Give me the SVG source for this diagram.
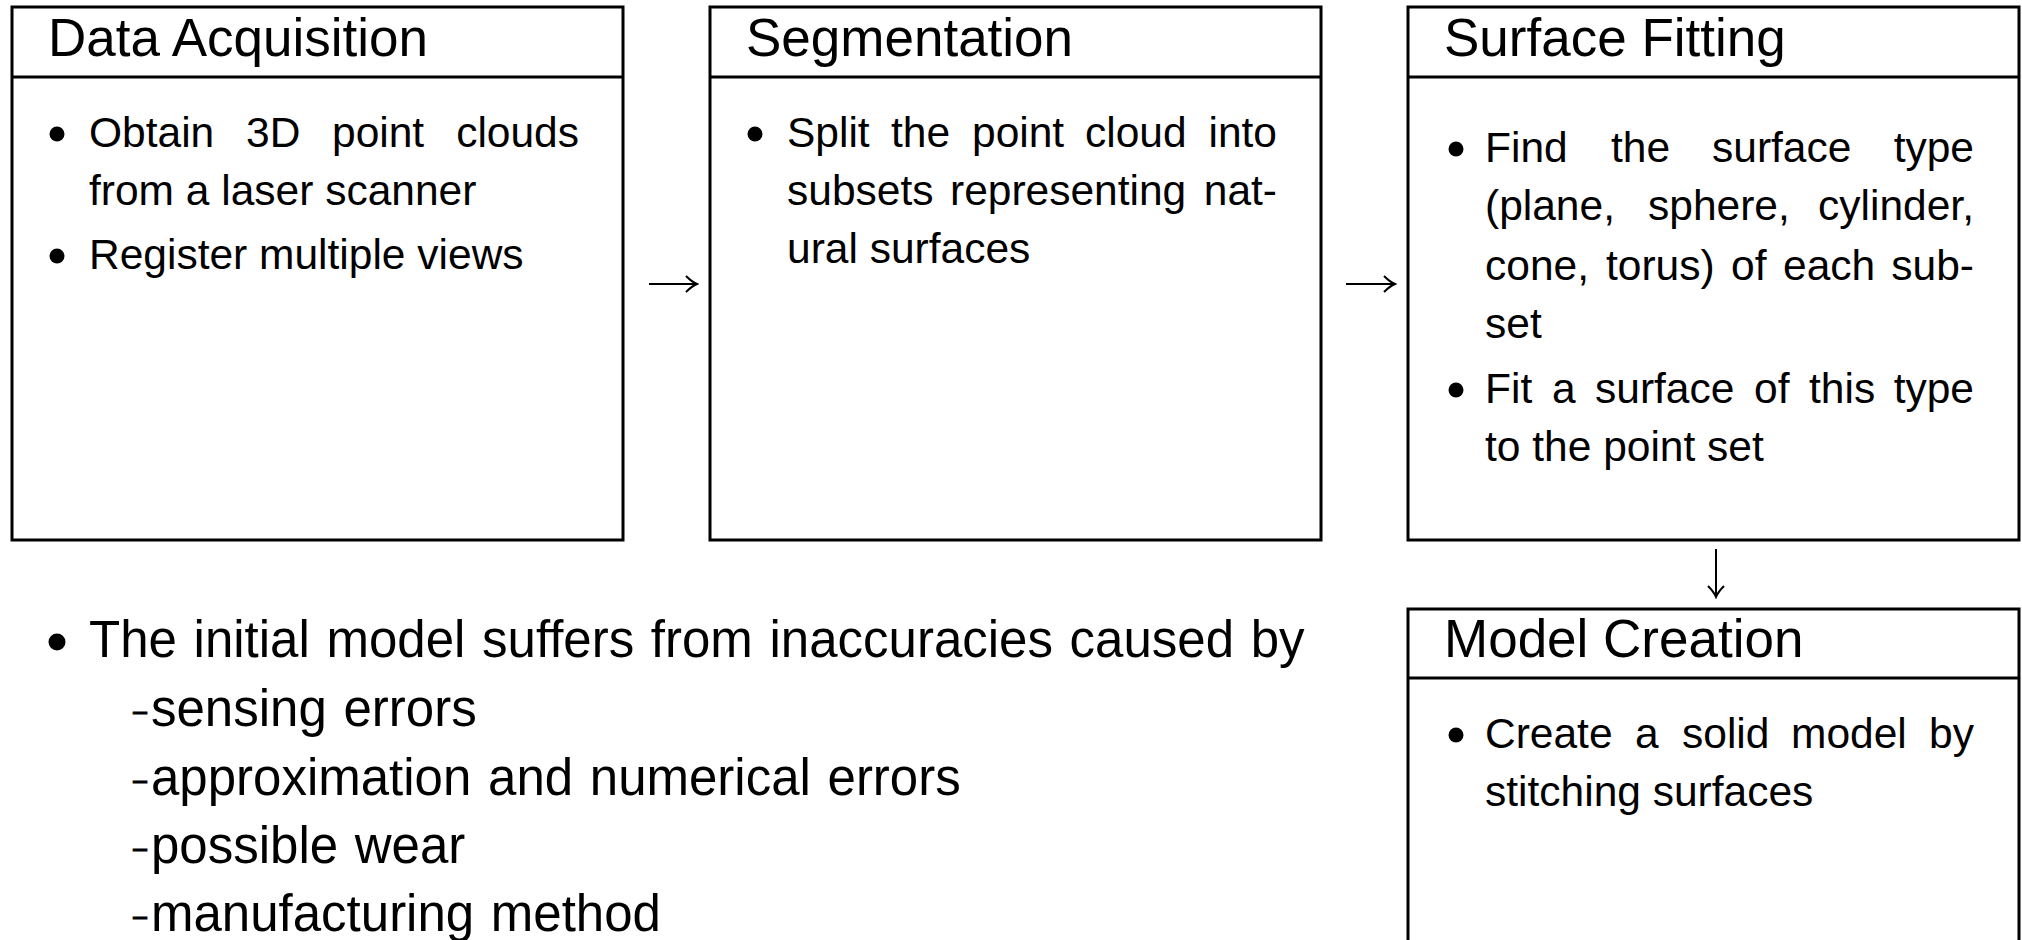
<svg xmlns="http://www.w3.org/2000/svg" width="2022" height="940" viewBox="0 0 2022 940">
<style>
.box{fill:#fff;stroke:#000;stroke-width:3}
.div{stroke:#000;stroke-width:3}
.t{font-family:"Liberation Sans",Arial,sans-serif;fill:#000}
.title{font-size:53px}
.body{font-size:42.5px}
.big{font-size:51px;word-spacing:2.5px}
.dash{font-size:30px;stroke:#000;stroke-width:0.9}
.end{text-anchor:end}
.conn{stroke:#000;stroke-width:2;fill:none}
</style>
<defs>
<marker id="ah" viewBox="-14 -10 16 20" refX="0" refY="0" markerWidth="16" markerHeight="20" markerUnits="userSpaceOnUse" orient="auto">
<path d="M-11,-8 Q-5,-2 0,0 Q-5,2 -11,8" fill="none" stroke="#000" stroke-width="2"/>
</marker>
</defs>
<rect width="2022" height="940" fill="#fff"/>

<g id="node-data-acquisition">
<rect class="box" x="12" y="7" width="611" height="533"/>
<line class="div" x1="12" y1="77" x2="623" y2="77"/>
<text class="t title" x="48" y="56">Data Acquisition</text>
<circle cx="57" cy="134" r="7.5"/>
<text class="t body" x="89" y="147">Obtain</text>
<text class="t body" x="246" y="147">3D</text>
<text class="t body" x="332" y="147">point</text>
<text class="t body end" x="579" y="147">clouds</text>
<text class="t body" x="89" y="205">from a laser scanner</text>
<circle cx="57" cy="256" r="7.5"/>
<text class="t body" x="89" y="269">Register multiple views</text>
</g>

<g id="node-segmentation">
<rect class="box" x="710" y="7" width="611" height="533"/>
<line class="div" x1="710" y1="77" x2="1321" y2="77"/>
<text class="t title" x="746" y="56">Segmentation</text>
<circle cx="755" cy="134" r="7.5"/>
<text class="t body" x="787" y="147">Split</text>
<text class="t body" x="891" y="147">the</text>
<text class="t body" x="972" y="147">point</text>
<text class="t body" x="1085" y="147">cloud</text>
<text class="t body end" x="1277" y="147">into</text>
<text class="t body" x="787" y="205">subsets</text>
<text class="t body" x="950" y="205">representing</text>
<text class="t body end" x="1277" y="205">nat-</text>
<text class="t body" x="787" y="263">ural surfaces</text>
</g>

<g id="node-surface-fitting">
<rect class="box" x="1408" y="7" width="611" height="533"/>
<line class="div" x1="1408" y1="77" x2="2019" y2="77"/>
<text class="t title" x="1444" y="56">Surface Fitting</text>
<circle cx="1456" cy="149" r="7.5"/>
<text class="t body" x="1485" y="162">Find</text>
<text class="t body" x="1611" y="162">the</text>
<text class="t body" x="1712" y="162">surface</text>
<text class="t body end" x="1974" y="162">type</text>
<text class="t body" x="1485" y="220">(plane,</text>
<text class="t body" x="1648" y="220">sphere,</text>
<text class="t body end" x="1974" y="220">cylinder,</text>
<text class="t body" x="1485" y="280">cone,</text>
<text class="t body" x="1606" y="280">torus)</text>
<text class="t body" x="1731" y="280">of</text>
<text class="t body" x="1783" y="280">each</text>
<text class="t body end" x="1974" y="280">sub-</text>
<text class="t body" x="1485" y="338">set</text>
<circle cx="1456" cy="390" r="7.5"/>
<text class="t body" x="1485" y="403">Fit</text>
<text class="t body" x="1552" y="403">a</text>
<text class="t body" x="1595" y="403">surface</text>
<text class="t body" x="1754" y="403">of</text>
<text class="t body" x="1809" y="403">this</text>
<text class="t body end" x="1974" y="403">type</text>
<text class="t body" x="1485" y="461">to the point set</text>
</g>

<g id="node-model-creation">
<rect class="box" x="1408" y="609" width="611" height="533"/>
<line class="div" x1="1408" y1="678" x2="2019" y2="678"/>
<text class="t title" x="1444" y="657">Model Creation</text>
<circle cx="1456" cy="735" r="7.5"/>
<text class="t body" x="1485" y="748">Create</text>
<text class="t body" x="1635" y="748">a</text>
<text class="t body" x="1682" y="748">solid</text>
<text class="t body" x="1791" y="748">model</text>
<text class="t body end" x="1974" y="748">by</text>
<text class="t body" x="1485" y="806">stitching surfaces</text>
</g>

<g id="notes">
<circle cx="57" cy="642" r="8.5"/>
<text class="t big" x="89" y="657">The initial model suffers from inaccuracies caused by</text>
<text class="t dash" x="133" y="720.5" textLength="14" lengthAdjust="spacingAndGlyphs">–</text>
<text class="t big" x="151" y="726">sensing errors</text>
<text class="t dash" x="133" y="789.5" textLength="14" lengthAdjust="spacingAndGlyphs">–</text>
<text class="t big" x="151" y="795">approximation and numerical errors</text>
<text class="t dash" x="133" y="857.5" textLength="14" lengthAdjust="spacingAndGlyphs">–</text>
<text class="t big" x="151" y="863">possible wear</text>
<text class="t dash" x="133" y="925.5" textLength="14" lengthAdjust="spacingAndGlyphs">–</text>
<text class="t big" x="151" y="931">manufacturing method</text>
</g>

<g id="connectors">
<line class="conn" x1="649" y1="284" x2="697" y2="284" marker-end="url(#ah)"/>
<line class="conn" x1="1346" y1="284" x2="1395" y2="284" marker-end="url(#ah)"/>
<line class="conn" x1="1716" y1="549" x2="1716" y2="597" marker-end="url(#ah)"/>
</g>
</svg>
